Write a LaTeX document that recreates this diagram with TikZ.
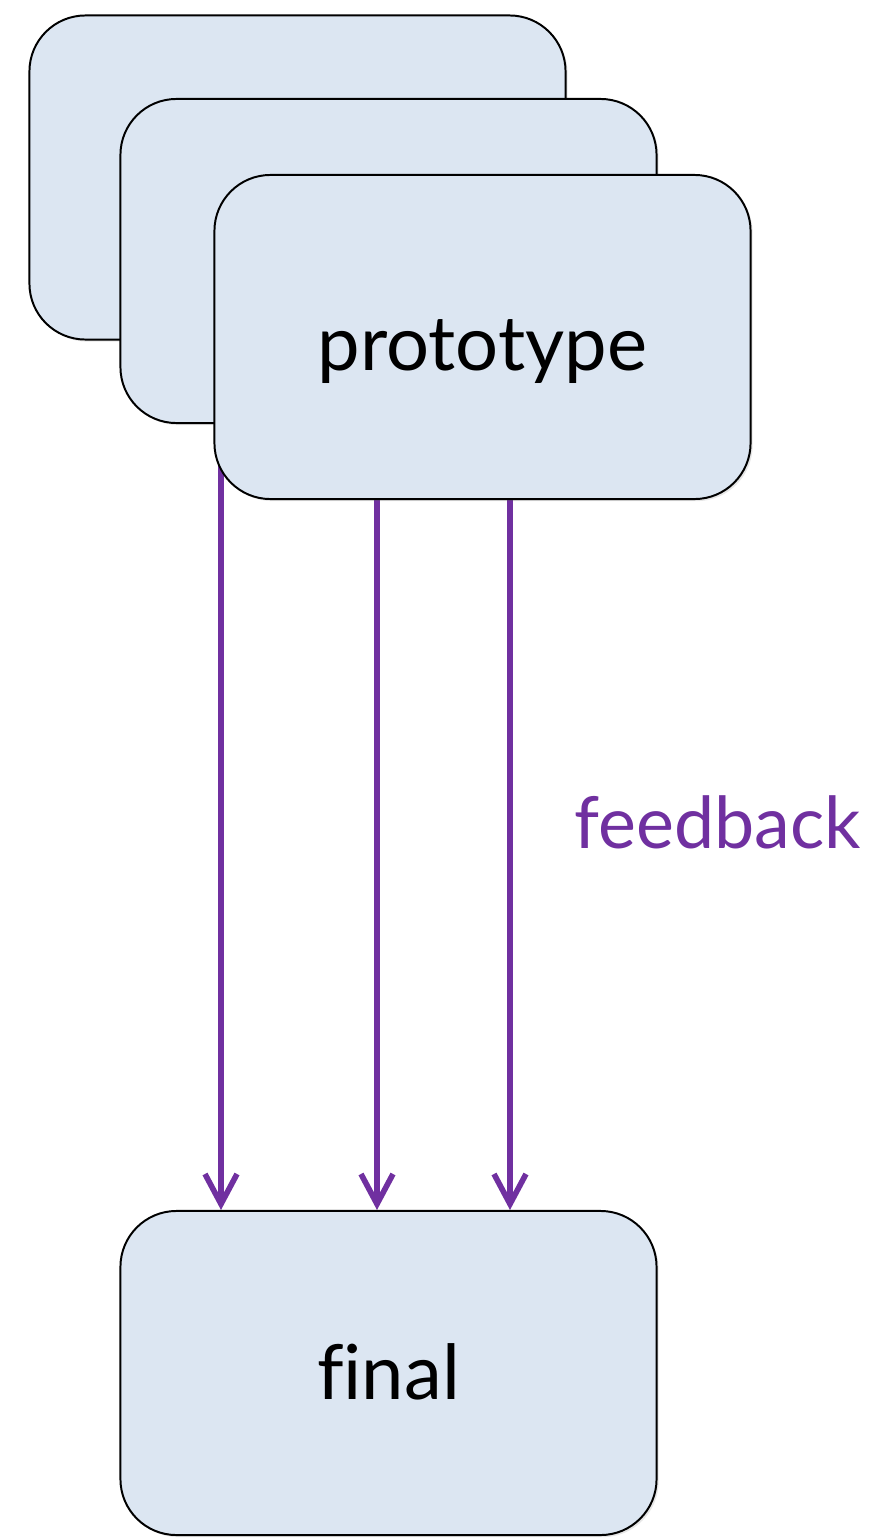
\documentclass[tikz,border=0pt]{standalone}
\usepackage{fontspec}
\setmainfont[Ligatures=NoCommon]{Lato}
\usetikzlibrary{arrows.meta,backgrounds,shadows}
\definecolor{boxblue}{HTML}{DCE6F2}
\definecolor{fbpurple}{HTML}{7030A0}
\tikzset{
  card/.style={draw=black, line width=1.4pt, fill=boxblue, rounded corners=1.4cm,
    minimum width=13.4cm, minimum height=8.1cm, text height=1.3cm, text depth=0pt,
    drop shadow={shadow xshift=1.5pt, shadow yshift=-1.5pt, opacity=0.2},
    font=\fontsize{54}{60}\selectfont},
  fbarrow/.style={draw=fbpurple, line width=4pt,
    -{Straight Barb[length=0.75cm, width=0.8cm, line width=4pt]}},
}
\begin{document}
\begin{tikzpicture}[x=0.025cm, y=-0.025cm]
        \useasboundingbox (0,0) rectangle (871,1539);
        \node[card] (back) at (297.5,177.5) {};
        \node[card] (mid) at (388.5,261) {};
        \node[card, text height=1.65cm] (proto) at (482.5,337) {prototype};
        \node[card] (final) at (388.5,1373) {final};
        % feedback arrows, start hidden behind the front card
        \coordinate (a1) at (221,337);
        \coordinate (a2) at (377,337);
        \coordinate (a3) at (510,337);
        \begin{scope}[on background layer]
        \foreach \a in {a1,a2,a3} \draw[fbarrow] (\a) -- (\a |- final.north);
        \end{scope}
        \node[text=fbpurple, font=\fontsize{51}{60}\selectfont] (fb) at (718,822) {feedback};
    \end{tikzpicture}
\end{document}
